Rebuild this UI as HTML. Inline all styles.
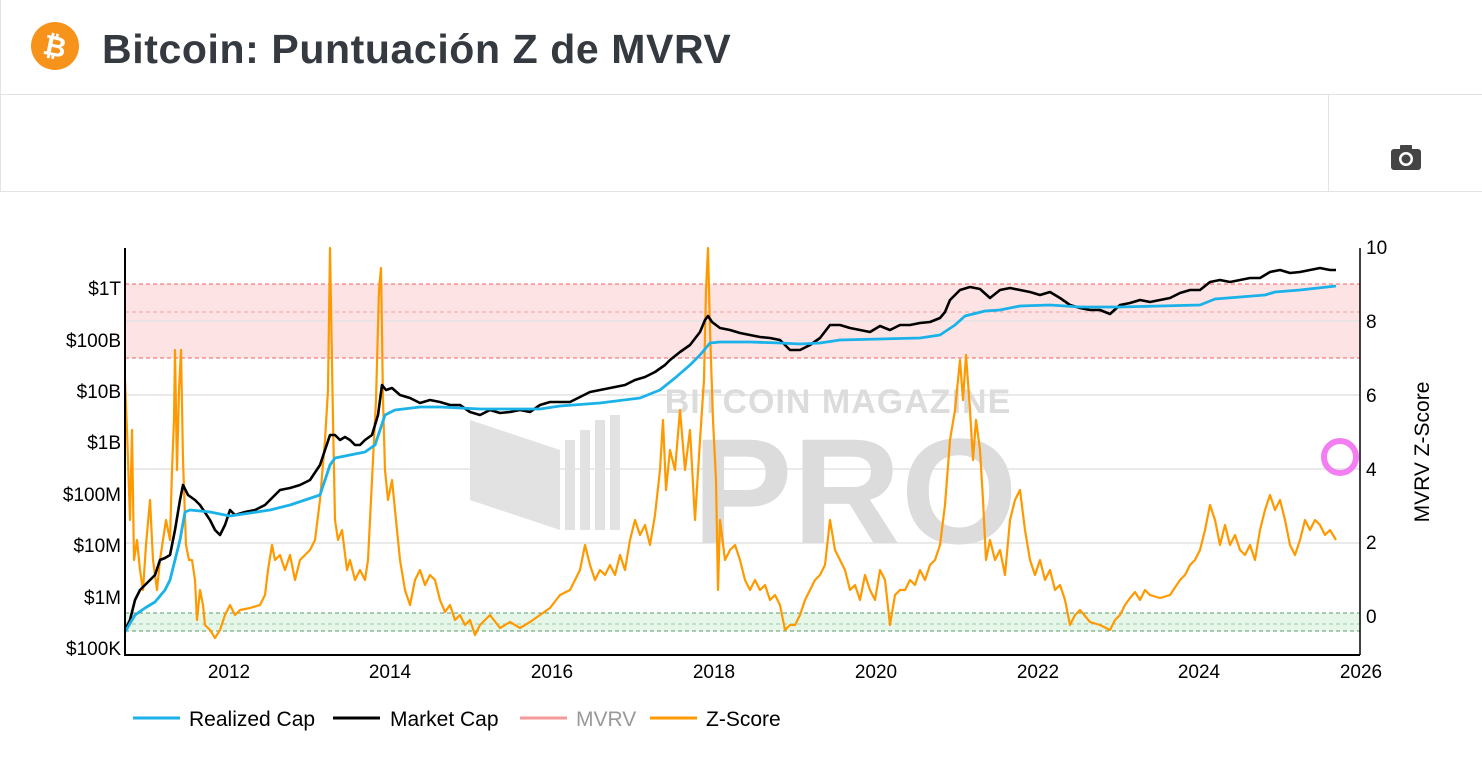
<!DOCTYPE html>
<html><head><meta charset="utf-8"><style>
body{margin:0;width:1482px;height:757px;background:#fff;overflow:hidden;font-family:"Liberation Sans",sans-serif;position:relative}
.hdr{position:absolute;left:0;top:0;width:1482px;height:94px;border-bottom:1px solid #e3e3e3;border-left:1px solid #e3e3e3}
.title{position:absolute;left:102px;top:26px;font-size:41px;font-weight:bold;color:#343a40;letter-spacing:0.6px}
.tb{position:absolute;left:0;top:95px;width:1482px;height:96px;border-bottom:1px solid #e3e3e3;border-left:1px solid #e3e3e3}
.vl{position:absolute;left:1328px;top:95px;width:1px;height:97px;background:#e3e3e3}
</style></head><body>
<div class="hdr"></div>
<svg style="position:absolute;left:31px;top:22px" width="48" height="48"><circle cx="24" cy="24" r="24" fill="#f7931a"/><text x="24" y="34" text-anchor="middle" font-size="28" font-weight="bold" fill="#fff" font-family="Liberation Sans" transform="rotate(12 24 24)">₿</text></svg>
<div class="title">Bitcoin: Puntuación Z de MVRV</div>
<div class="tb"></div><div class="vl"></div>
<svg style="position:absolute;left:1390px;top:143px" width="32" height="28"><rect x="1" y="6" width="30" height="21" rx="3" fill="#444"/><rect x="10" y="2" width="12" height="6" rx="1" fill="#444"/><circle cx="16" cy="16" r="7" fill="#fff"/><circle cx="16" cy="16" r="4.5" fill="#444"/></svg>
<svg style="position:absolute;left:0;top:0" width="1482" height="757" font-family="Liberation Sans">
<rect x="125" y="284" width="1235" height="74" fill="#fde3e3"/>
<rect x="125" y="613" width="1235" height="18" fill="#e6f7ea"/>
<g stroke="#e3e3e3" stroke-width="1.5"><line x1="125" x2="1360" y1="321" y2="321"/><line x1="125" x2="1360" y1="395" y2="395"/><line x1="125" x2="1360" y1="469" y2="469"/><line x1="125" x2="1360" y1="543" y2="543"/></g>
<g stroke="#f06060" stroke-dasharray="4,3"><line x1="125" x2="1360" y1="284" y2="284"/><line x1="125" x2="1360" y1="358" y2="358"/><line x1="125" x2="1360" y1="312" y2="312" stroke="#f5a0a0"/></g>
<g stroke="#5a9a6a" stroke-dasharray="4,3"><line x1="125" x2="1360" y1="613" y2="613"/><line x1="125" x2="1360" y1="631" y2="631"/><line x1="125" x2="1360" y1="624" y2="624" stroke="#9ac8a4"/></g>
<g fill="#dcdcdc" font-weight="bold"><text x="838" y="413" text-anchor="middle" font-size="34" letter-spacing="1">BITCOIN MAGAZINE</text><text x="855" y="543" text-anchor="middle" font-size="150" font-weight="900">PRO</text></g>
<g fill="#e2e2e2"><polygon points="470,420 560,450 560,530 470,500"/><rect x="565" y="440" width="10" height="90"/><rect x="580" y="430" width="10" height="100"/><rect x="595" y="420" width="10" height="110"/><rect x="610" y="415" width="10" height="115"/></g>
<polyline fill="none" stroke="#ff9900" stroke-width="2.2" stroke-linejoin="round" points="125,380 127,430 130,520 132,430 134,560 137,540 140,570 143,590 146,545 150,500 153,560 157,590 160,560 163,540 166,520 170,540 172,470 174,420 175,350 177,470 179,390 181,350 183,460 186,545 189,560 192,560 195,580 197,620 200,590 203,605 205,625 210,630 215,638 220,630 225,615 230,605 235,615 240,610 250,608 260,605 265,595 268,570 272,545 275,560 280,555 285,570 290,555 295,580 300,560 305,555 310,550 315,540 320,500 325,440 328,390 330,248 333,420 335,520 338,540 342,530 347,570 350,560 355,580 360,570 365,580 368,560 372,480 376,400 379,290 381,268 383,400 385,470 388,500 392,480 396,520 400,560 405,590 410,605 415,580 420,570 425,585 430,575 435,580 440,600 445,612 450,605 455,620 460,615 465,625 470,620 475,635 480,625 490,615 500,628 510,622 520,628 530,622 540,615 550,608 560,595 570,590 575,580 580,570 585,545 590,565 595,580 600,570 605,575 610,565 615,575 620,555 625,570 630,540 635,520 640,535 645,525 650,545 655,515 660,470 663,420 666,490 670,450 675,470 680,410 685,470 690,430 695,520 700,440 704,380 706,290 708,248 710,330 713,420 716,480 718,590 720,520 725,560 730,550 735,545 740,560 745,580 750,590 755,580 760,590 765,585 770,600 775,595 780,605 785,630 790,625 795,625 800,615 805,600 810,590 815,580 820,575 825,565 830,520 835,550 840,560 845,570 850,590 855,585 860,600 865,575 870,590 875,600 880,570 885,580 890,625 895,595 900,590 905,590 910,580 915,585 920,570 925,580 930,565 935,560 940,545 945,505 950,440 955,410 960,360 963,400 966,355 970,410 973,460 976,420 980,450 983,500 986,560 990,540 995,560 1000,550 1005,575 1010,520 1015,500 1020,490 1025,530 1030,560 1035,575 1040,560 1045,580 1050,570 1055,590 1060,585 1065,600 1070,625 1075,615 1080,610 1090,622 1100,625 1110,630 1115,620 1120,615 1125,605 1130,598 1135,592 1140,600 1145,590 1150,595 1160,598 1170,595 1180,580 1185,575 1190,565 1195,560 1200,550 1205,530 1210,505 1215,520 1220,545 1225,525 1230,545 1235,535 1240,550 1245,555 1250,545 1255,560 1260,530 1265,510 1270,495 1275,510 1280,500 1285,520 1290,545 1295,555 1300,540 1305,520 1310,530 1315,520 1320,525 1325,535 1330,530 1336,540"/>
<polyline fill="none" stroke="#000" stroke-width="2.6" stroke-linejoin="round" points="125,630 130,620 135,600 140,590 145,585 150,580 155,575 160,560 165,558 170,555 175,530 180,500 183,485 188,495 195,500 200,505 210,520 215,530 220,535 225,525 230,510 235,515 245,512 255,510 265,505 275,495 280,490 290,488 300,485 310,480 320,465 325,450 330,435 335,435 340,440 345,437 350,440 355,445 360,445 365,440 372,435 378,415 382,385 386,390 392,388 400,395 410,398 420,403 430,400 440,402 450,405 460,405 470,412 480,415 490,410 500,413 510,412 520,410 530,412 540,405 550,402 560,402 570,402 580,397 590,392 600,390 615,387 625,385 635,380 645,377 655,372 665,365 670,360 680,352 690,345 700,332 705,320 708,316 712,322 720,328 730,330 740,333 750,335 760,337 770,338 780,340 790,350 800,350 810,345 820,338 830,325 840,325 850,328 860,330 870,332 880,326 890,330 900,325 910,325 920,323 930,322 940,318 945,312 950,300 960,290 970,287 980,289 990,298 1000,290 1010,288 1020,290 1030,292 1040,295 1050,292 1060,298 1070,305 1080,308 1090,310 1100,310 1110,314 1120,305 1130,303 1140,300 1150,302 1160,300 1170,298 1180,293 1190,290 1200,290 1210,282 1220,280 1230,282 1240,280 1250,278 1260,278 1270,272 1280,270 1290,273 1300,272 1310,270 1320,268 1330,270 1336,270"/>
<polyline fill="none" stroke="#1ab2e8" stroke-width="2.8" stroke-linejoin="round" points="125,632 135,615 145,608 155,602 165,590 170,580 175,560 180,540 185,512 190,510 210,512 230,516 250,513 270,510 290,505 305,500 320,495 330,465 335,458 350,455 365,452 375,445 385,415 395,410 420,407 440,407 460,408 480,409 500,409 540,409 560,406 600,403 640,398 660,390 675,378 690,365 700,355 710,343 720,342 750,342 780,343 800,344 820,343 840,340 880,339 920,338 940,335 955,325 965,316 985,311 1000,310 1020,306 1050,305 1080,307 1120,307 1160,306 1200,305 1215,299 1240,297 1265,295 1275,292 1300,290 1336,286"/>
<line x1="125" y1="248" x2="125" y2="655" stroke="#000" stroke-width="2"/>
<line x1="124" y1="655" x2="1360" y2="655" stroke="#000" stroke-width="2"/>
<line x1="1360" y1="248" x2="1360" y2="655" stroke="#000" stroke-width="1.5"/>
<g font-size="19" fill="#000" text-anchor="end"><text x="121" y="295">$1T</text><text x="121" y="347">$100B</text><text x="121" y="398">$10B</text><text x="121" y="449">$1B</text><text x="121" y="501">$100M</text><text x="121" y="552">$10M</text><text x="121" y="604">$1M</text><text x="121" y="655">$100K</text></g>
<g font-size="19" fill="#000"><text x="1366" y="254">10</text><text x="1366" y="328">8</text><text x="1366" y="402">6</text><text x="1366" y="476">4</text><text x="1366" y="549">2</text><text x="1366" y="623">0</text></g>
<g font-size="19" fill="#000" text-anchor="middle"><text x="229" y="678">2012</text><text x="390" y="678">2014</text><text x="552" y="678">2016</text><text x="714" y="678">2018</text><text x="876" y="678">2020</text><text x="1038" y="678">2022</text><text x="1199" y="678">2024</text><text x="1361" y="678">2026</text></g>
<text transform="translate(1429,452) rotate(-90)" text-anchor="middle" font-size="21" fill="#000">MVRV Z-Score</text>
<circle cx="1340" cy="457" r="16" fill="none" stroke="#f27ef2" stroke-width="6"/>
<g font-size="21"><line x1="133" x2="180" y1="718" y2="718" stroke="#1ab2e8" stroke-width="3"/><text x="189" y="726">Realized Cap</text>
<line x1="333" x2="380" y1="718" y2="718" stroke="#000" stroke-width="3"/><text x="390" y="726">Market Cap</text>
<line x1="520" x2="567" y1="718" y2="718" stroke="#f49a9a" stroke-width="3"/><text x="576" y="726" fill="#999">MVRV</text>
<line x1="650" x2="697" y1="718" y2="718" stroke="#ff9900" stroke-width="3"/><text x="706" y="726">Z-Score</text></g>
</svg>
</body></html>
